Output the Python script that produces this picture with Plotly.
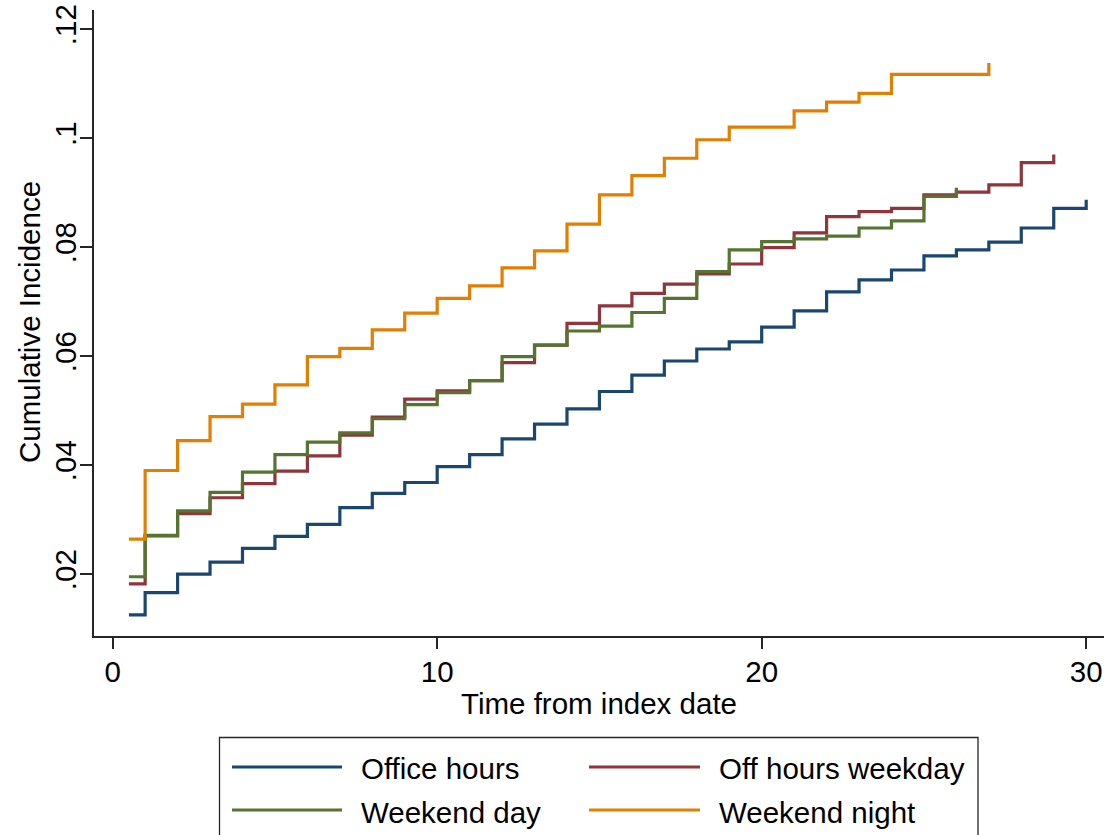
import plotly.graph_objects as go

# ---------------- data ----------------
series_names = ["Office hours", "Off hours weekday", "Weekend day", "Weekend night"]
series_colors = ["#1a476f", "#90353b", "#55752f", "#e37e00"]

office_t = [0.5, 1, 2, 3, 4, 5, 6, 7, 8, 9, 10, 11, 12, 13, 14, 15, 16, 17, 18, 19,
            20, 21, 22, 23, 24, 25, 26, 27, 28, 29, 30]
office_v = [0.0125, 0.0166, 0.0200, 0.0222, 0.0247, 0.0269, 0.0291, 0.0322, 0.0348, 0.0368,
            0.0397, 0.0419, 0.0448, 0.0475, 0.0503, 0.0535, 0.0565, 0.0591, 0.0613, 0.0626,
            0.0653, 0.0683, 0.0718, 0.0740, 0.0758, 0.0784, 0.0795, 0.0809, 0.0835, 0.0871,
            0.0887]

offhours_t = [0.5, 1, 2, 3, 4, 5, 6, 7, 8, 9, 10, 11, 12, 13, 14, 15, 16, 17, 18, 19,
              20, 21, 22, 23, 24, 25, 26, 27, 28, 29]
offhours_v = [0.0182, 0.0270, 0.0311, 0.0340, 0.0366, 0.0389, 0.0417, 0.0455, 0.0488, 0.0521,
              0.0536, 0.0555, 0.0588, 0.0620, 0.0660, 0.0692, 0.0715, 0.0732, 0.0751, 0.0769,
              0.0799, 0.0826, 0.0856, 0.0865, 0.0871, 0.0896, 0.0901, 0.0914, 0.0955, 0.0970]

wkday_t = [0.5, 1, 2, 3, 4, 5, 6, 7, 8, 9, 10, 11, 12, 13, 14, 15, 16, 17, 18, 19,
           20, 21, 22, 23, 24, 25, 26]
wkday_v = [0.0195, 0.0271, 0.0316, 0.0350, 0.0387, 0.0419, 0.0442, 0.0459, 0.0485, 0.0511,
           0.0533, 0.0555, 0.0599, 0.0620, 0.0646, 0.0655, 0.0680, 0.0706, 0.0755, 0.0795,
           0.0810, 0.0815, 0.0820, 0.0835, 0.0848, 0.0893, 0.0909]

wknight_t = [0.5, 1, 2, 3, 4, 5, 6, 7, 8, 9, 10, 11, 12, 13, 14, 15, 16, 17, 18, 19,
             20, 21, 22, 23, 24, 25, 26, 27]
wknight_v = [0.0264, 0.0390, 0.0445, 0.0489, 0.0512, 0.0547, 0.0599, 0.0614, 0.0648, 0.0679,
             0.0706, 0.0729, 0.0762, 0.0793, 0.0842, 0.0896, 0.0931, 0.0963, 0.0997, 0.1020,
             0.1020, 0.1050, 0.1066, 0.1082, 0.1117, 0.1117, 0.1117, 0.1138]

x_tickvals = [0, 10, 20, 30]
y_tickvals = [0.02, 0.04, 0.06, 0.08, 0.10, 0.12]
y_ticktext = [".02", ".04", ".06", ".08", ".1", ".12"]

x_title = "Time from index date"
y_title = "Cumulative Incidence"

# ---------------- layout constants ----------------
W, H = 1105, 835
ML, MR, MT, MB = 94, 1, 10, 199
PW, PH = W - ML - MR, H - MT - MB
FONT = "Liberation Sans, Arial, sans-serif"
FS = 29.5
AXC = "#262626"


def px_x(px):
    return (px - ML) / PW


def px_y(py):
    return (H - MB - py) / PH


fig = go.Figure()
all_t = [office_t, offhours_t, wkday_t, wknight_t]
all_v = [office_v, offhours_v, wkday_v, wknight_v]
for name, col, t, v in zip(series_names, series_colors, all_t, all_v):
    fig.add_trace(go.Scatter(x=t, y=v, mode="lines", name=name,
                             line=dict(color=col, width=3.2, shape="hv"),
                             showlegend=False))

fig.update_layout(
    width=W, height=H,
    margin=dict(l=ML, r=MR, t=MT, b=MB),
    paper_bgcolor="white", plot_bgcolor="white",
    font=dict(family=FONT, size=FS, color="black"),
    xaxis=dict(range=[-0.576, 30.549], tickvals=x_tickvals, showgrid=False, zeroline=False,
               showline=True, linecolor=AXC, linewidth=1.6, ticks="outside", ticklen=11,
               tickwidth=1.6, tickcolor=AXC, ticklabelstandoff=-2,
               tickfont=dict(size=FS, family=FONT, color="black")),
    yaxis=dict(range=[0.008631, 0.12351], tickvals=y_tickvals, ticktext=y_ticktext,
               showgrid=False, zeroline=False, tickangle=-90,
               showline=True, linecolor=AXC, linewidth=1.6, ticks="outside", ticklen=12,
               tickwidth=1.6, tickcolor=AXC, ticklabelstandoff=-8,
               tickfont=dict(size=FS, family=FONT, color="black")),
)

# axis titles
fig.add_annotation(text=x_title, xref="paper", yref="paper", x=px_x(599), y=px_y(703),
                   xanchor="center", yanchor="middle", showarrow=False,
                   font=dict(size=FS, family=FONT, color="black"))
fig.add_annotation(text=y_title, xref="paper", yref="paper", x=px_x(29), y=px_y(322),
                   xanchor="center", yanchor="middle", textangle=-90, showarrow=False,
                   font=dict(size=FS, family=FONT, color="black"))

# legend box (drawn as in Stata: two columns, long line keys)
fig.add_shape(type="rect", xref="paper", yref="paper",
              x0=px_x(219.5), x1=px_x(978), y0=px_y(737.5), y1=px_y(860),
              line=dict(color=AXC, width=1.3), fillcolor="rgba(0,0,0,0)", layer="above")
key_cols = [(232, 342, 359), (589, 700, 717)]
key_rows = [(767, 768), (810, 812)]
for i, (name, col) in enumerate(zip(series_names, series_colors)):
    r, c = divmod(i, 2)
    lx0, lx1, tx = key_cols[c]
    ly, ty = key_rows[r]
    fig.add_shape(type="line", xref="paper", yref="paper",
                  x0=px_x(lx0), x1=px_x(lx1), y0=px_y(ly), y1=px_y(ly),
                  line=dict(color=col, width=3.2))
    fig.add_annotation(text=name, xref="paper", yref="paper", x=px_x(tx), y=px_y(ty),
                       xanchor="left", yanchor="middle", showarrow=False,
                       font=dict(size=FS, family=FONT, color="black"))

fig.write_html("out.html", config={"displayModeBar": False},
               post_script="document.body.style.margin='0px';document.body.style.overflow='hidden';")
